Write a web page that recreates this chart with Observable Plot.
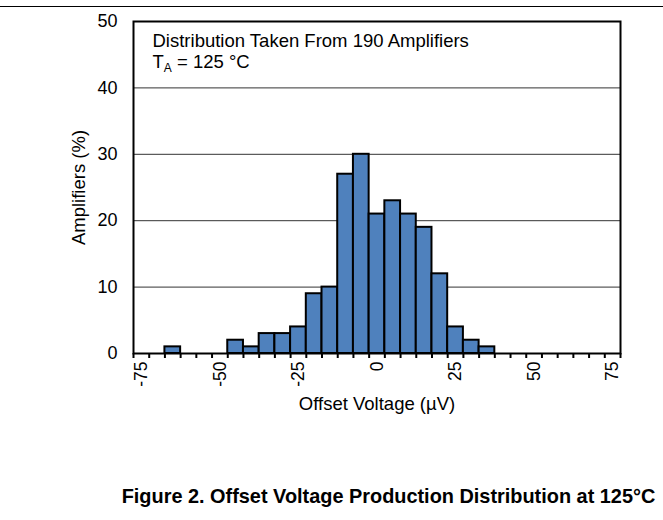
<!DOCTYPE html>
<html><head><meta charset="utf-8">
<script src="https://cdn.jsdelivr.net/npm/d3@7"></script>
<script src="https://cdn.jsdelivr.net/npm/@observablehq/plot@0.6"></script>
<style>
body{margin:0;background:#fff;font-family:"Liberation Sans",Arial,sans-serif;}
#wrap{position:relative;width:663px;height:520px;}
#topline{position:absolute;top:6px;left:0;width:663px;border-top:1px solid #000;}
#caption{margin-top:65px;padding-left:114px;text-align:center;font-size:19.9px;font-weight:bold;line-height:22px;color:#000;white-space:nowrap;}
</style></head><body>
<div id="wrap"><div id="topline"></div><div id="chart"></div><div id="caption">Figure 2. Offset Voltage Production Distribution at 125°C</div></div>
<script>
const binCenters = [-75,-70,-65,-60,-55,-50,-45,-40,-35,-30,-25,-20,-15,-10,-5,0,5,10,15,20,25,30,35,40,45,50,55,60,65,70,75];
const amplifiersPct = [0,0,1,0,0,0,2,1,3,3,4,9,10,27,30,21,23,21,19,12,4,2,1,0,0,0,0,0,0,0,0];
const binWidth = 5;
const yTicks = [0,10,20,30,40,50];
const gridValues = [10,20,30,40];
const xTickLabels = [-75,-50,-25,0,25,50,75];
const noteLine1 = "Distribution Taken From 190 Amplifiers";
const tempSymbol = "T", tempSub = "A", tempValue = " = 125 °C";

const data = binCenters.map((c,i)=>({c, v: amplifiersPct[i]})).filter(d=>d.v>0);
const edges = binCenters.map(c=>c-binWidth/2).concat([binCenters[binCenters.length-1]+binWidth/2]);
const line2 = tempSymbol + tempSub + tempValue;

const chart = Plot.plot({
  width: 663, height: 420,
  marginLeft: 133, marginRight: 43, marginTop: 21, marginBottom: 67,
  x: {domain: [edges[0], edges[edges.length-1]]},
  y: {domain: [0, 50]},
  style: {fontFamily: '"Liberation Sans", Arial, sans-serif', fontSize: "15px", color: "#000", background: "#fff"},
  marks: [
    Plot.ruleY(gridValues, {stroke: "#333", strokeWidth: 1}),
    Plot.rectY(data, {x1: d=>d.c-binWidth/2, x2: d=>d.c+binWidth/2, y1: 0, y2: "v", fill: "#4F81BD", stroke: "#000", strokeWidth: 2}),
    Plot.axisY({ticks: yTicks, tickSize: 0, tickPadding: 16, fontSize: 18, label: null}),
    Plot.axisY({ticks: [], tickSize: 0, fontSize: 18.5, label: "Amplifiers (%)", labelAnchor: "center", labelOffset: 62, labelArrow: "none"}),
    Plot.axisX({ticks: edges, tickSize: 5, strokeWidth: 2, tickFormat: () => "", label: null}),
    Plot.axisX({ticks: xTickLabels, tickSize: 0, tickPadding: 8, tickRotate: -90, fontSize: 17.5, tickFormat: d => String(d), label: null}),
    Plot.axisX({ticks: [], tickSize: 0, fontSize: 18.5, label: "Offset Voltage (µV)", labelAnchor: "center", labelOffset: 56, labelArrow: "none"}),
    Plot.frame({stroke: "#000", strokeWidth: 2}),
    Plot.text([noteLine1 + "\n" + line2], {text: d => d, frameAnchor: "top-left", dx: 19, dy: 10, lineHeight: 1.15, fontSize: 18.5, textAnchor: "start", fill: "#000"})
  ]
});
document.getElementById("chart").appendChild(chart);

// subscript for T_A
d3.select(chart).selectAll("tspan, text").each(function(){
  if (this.childElementCount === 0 && this.textContent === line2) {
    const el = d3.select(this);
    el.text("");
    el.append("tspan").text(tempSymbol);
    el.append("tspan").attr("font-size", 12).attr("dy", 4).text(tempSub);
    el.append("tspan").attr("dy", -4).text(tempValue);
  }
});
</script>
</body></html>
